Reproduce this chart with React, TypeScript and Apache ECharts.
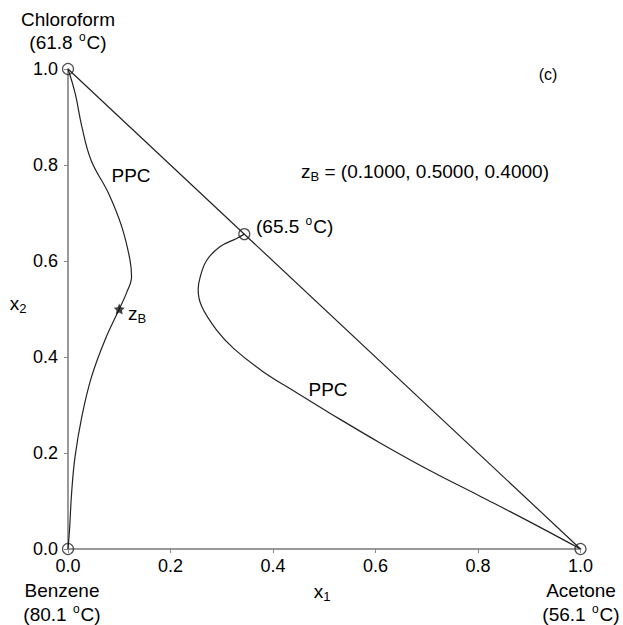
import React, { useEffect, useRef } from "react";
import * as echarts from "echarts";

const tickValues = [0, 0.2, 0.4, 0.6, 0.8, 1.0];
const edgeLine: [number, number][] = [[0, 1], [1, 0]];
const leftPPC: [number, number][] = [
  [0, 1], [0.014, 0.949], [0.027, 0.88], [0.045, 0.81], [0.079, 0.741], [0.105, 0.671],
  [0.121, 0.602], [0.124, 0.567], [0.114, 0.533], [0.1, 0.5], [0.072, 0.435],
  [0.046, 0.359], [0.027, 0.276], [0.0137, 0.192], [0.007, 0.116], [0.003, 0.04], [0, 0],
];
const rightPPC: [number, number][] = [
  [0.344, 0.656], [0.329, 0.647], [0.297, 0.63], [0.271, 0.602], [0.258, 0.567],
  [0.254, 0.54], [0.261, 0.505], [0.29, 0.456], [0.323, 0.418], [0.38, 0.37],
  [0.447, 0.325], [0.511, 0.283], [0.609, 0.221], [0.707, 0.163], [0.804, 0.11],
  [0.902, 0.056], [1, 0],
];
const pureAndAzeo: [number, number][] = [[0, 1], [0, 0], [1, 0], [0.344, 0.656]];
const feedPoint: [number, number][] = [[0.1, 0.5]];

const FONT = "Liberation Sans, Arial, sans-serif";
const STAR =
  "path://M0,-10 L2.9,-4 9.5,-3.1 4.7,1.5 5.9,8.1 0,5 -5.9,8.1 -4.7,1.5 -9.5,-3.1 -2.9,-4Z";

function txt(text: string, x: number, y: number, align = "center", size = 19) {
  return {
    type: "text",
    x,
    y,
    style: {
      text,
      x: 0,
      y: 0,
      align,
      verticalAlign: "middle",
      font: `${size}px ${FONT}`,
      fill: "#000",
      rich: {
        sup: { fontSize: 12, fill: "#000", fontFamily: FONT, padding: [0, 1, 10, 1] },
        sub: { fontSize: 13, fill: "#000", fontFamily: FONT, padding: [10, 0, 0, 0] },
      },
    },
  };
}

export default function App() {
  const ref = useRef<HTMLDivElement>(null);
  useEffect(() => {
    if (!ref.current) return;
    const chart = echarts.init(ref.current, undefined, { renderer: "svg" });
    const axisCommon = {
      type: "value",
      min: 0,
      max: 1,
      interval: 0.2,
      axisLine: { show: true, lineStyle: { color: "#999", width: 2 } },
      axisTick: { show: true, length: 4, inside: false, lineStyle: { color: "#888", width: 1 } },
      splitLine: { show: false },
      axisLabel: {
        color: "#000",
        fontSize: 18,
        fontFamily: FONT,
        formatter: (v: number) => v.toFixed(1),
      },
    };
    chart.setOption({
      animation: false,
      backgroundColor: "#fff",
      grid: { left: 68, right: 42.5, top: 69, bottom: 76 },
      xAxis: { ...axisCommon, axisLabel: { ...axisCommon.axisLabel, margin: 8 } },
      yAxis: { ...axisCommon, axisLabel: { ...axisCommon.axisLabel, margin: 10 } },
      series: [
        {
          type: "line",
          data: edgeLine,
          symbol: "none",
          lineStyle: { color: "#222", width: 1.2 },
        },
        {
          type: "line",
          data: leftPPC,
          symbol: "none",
          smooth: 0.4,
          lineStyle: { color: "#222", width: 1.2 },
        },
        {
          type: "line",
          data: rightPPC,
          symbol: "none",
          smooth: 0.4,
          lineStyle: { color: "#222", width: 1.2 },
        },
        {
          type: "scatter",
          data: pureAndAzeo,
          symbol: "circle",
          symbolSize: 11,
          itemStyle: { color: "rgba(255,255,255,0)", borderColor: "#222", borderWidth: 1.2 },
          z: 5,
        },
        {
          type: "scatter",
          data: feedPoint,
          symbol: STAR,
          symbolSize: 11,
          itemStyle: { color: "#111" },
          z: 5,
        },
      ],
      graphic: [
        txt("Chloroform", 68, 19),
        txt("(61.8 {sup|o}C)", 68, 42),
        txt("(c)", 548, 74, "center", 16),
        txt("z{sub|B} = (0.1000, 0.5000, 0.4000)", 425, 171),
        txt("(65.5 {sup|o}C)", 256, 226, "left"),
        txt("PPC", 131, 175),
        txt("PPC", 328, 389),
        txt("z{sub|B}", 128, 313, "left"),
        txt("x{sub|2}", 18, 303),
        txt("x{sub|1}", 322, 591),
        txt("Benzene", 62, 590),
        txt("(80.1 {sup|o}C)", 62, 614),
        txt("Acetone", 581, 590),
        txt("(56.1 {sup|o}C)", 581, 614),
      ],
    });
    return () => chart.dispose();
  }, []);
  return <div ref={ref} style={{ width: 623, height: 625, position: "absolute", left: 0, top: 0 }} />;
}
